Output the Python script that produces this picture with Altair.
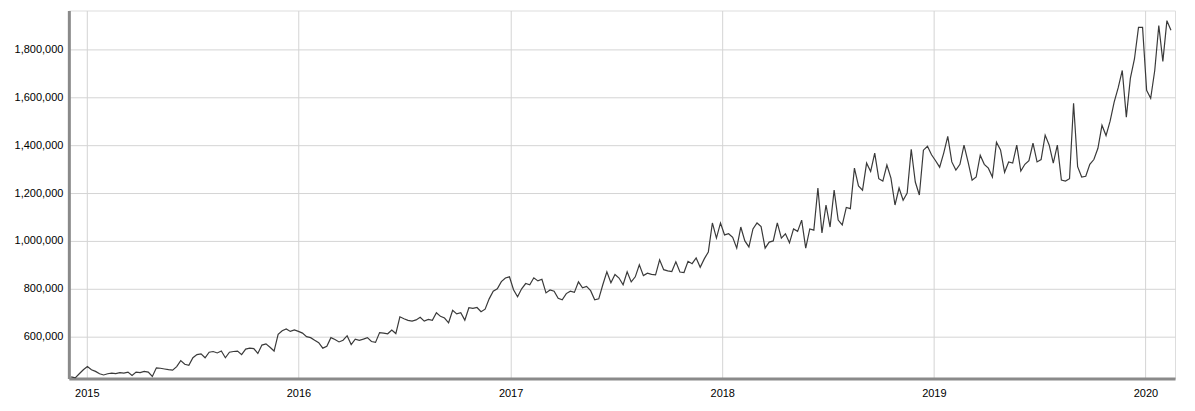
import altair as alt
import pandas as pd

# weekly readings (thousands), first point 2014-12-05, every 7 days
vals_2014 = [432, 428, 445, 462]
vals_2015 = [
    475, 462, 455, 445,
    440, 445, 448, 446,
    450, 448, 452, 438, 452,
    450, 455, 452, 434,
    470, 468, 465, 462,
    460, 475, 500, 485, 480,
    512, 525, 528, 512,
    535, 538, 532, 540, 512,
    535, 538, 540, 525,
    548, 552, 550, 530,
    565, 570, 556, 540, 610,
    625, 632, 622,
]
vals_2016 = [
    628, 622, 615, 600,
    596, 585, 575, 552, 560,
    596, 588, 578, 585,
    604, 567, 590, 585,
    590, 596, 580, 576, 617,
    615, 612, 628, 613,
    683, 675, 668, 665,
    670, 681, 665, 672, 668,
    700, 685, 678, 658,
    710, 695, 700, 669, 721,
    718, 722, 704, 715,
    758, 790, 800, 830, 845,
]
vals_2017 = [
    850, 796, 767, 800, 822,
    817, 846, 833, 840,
    783, 795, 790, 760,
    754, 780, 790, 785,
    829, 804, 810, 792, 754,
    758, 817, 871, 825,
    860, 845, 817, 871, 829,
    850, 900, 855, 865,
    860, 858, 921, 880,
    875, 872, 913, 870, 868,
    915, 905, 929, 890,
    925, 954, 1075, 1012,
]
vals_2018 = [
    1075, 1025, 1030, 1015, 970,
    1058, 1000, 975, 1050,
    1075, 1060, 970, 995,
    1000, 1075, 1012, 1030, 992,
    1050, 1040, 1087, 970,
    1050, 1045, 1221, 1033,
    1150, 1058, 1212, 1087, 1067,
    1140, 1135, 1304, 1230,
    1212, 1325, 1290, 1367,
    1260, 1250, 1317, 1262, 1150,
    1221, 1170, 1200, 1383,
    1246, 1192, 1379, 1395,
]
vals_2019 = [
    1360, 1335, 1308, 1367,
    1437, 1330, 1296, 1320,
    1400, 1330, 1254, 1267, 1358,
    1320, 1304, 1267, 1412,
    1380, 1287, 1330, 1325, 1400,
    1292, 1320, 1335, 1408,
    1330, 1340, 1442, 1400,
    1325, 1400, 1254, 1250, 1260,
    1575, 1310, 1267, 1270,
    1320, 1340, 1387, 1483,
    1440, 1500, 1580, 1640, 1712,
    1517, 1680, 1760, 1892,
]
vals_2020 = [1892, 1629, 1596, 1712, 1900, 1750, 1920, 1880]

values = vals_2014 + vals_2015 + vals_2016 + vals_2017 + vals_2018 + vals_2019 + vals_2020
dates = pd.date_range("2014-12-05", periods=len(values), freq="7D")
df = pd.DataFrame({"date": dates, "value": [v * 1000 for v in values]})

year_ticks = [2015, 2016, 2017, 2018, 2019, 2020]
y_ticks = [600000, 800000, 1000000, 1200000, 1400000, 1600000, 1800000]

x_enc = alt.X(
    "date:T",
    scale=alt.Scale(domain=["2014-12-01", "2020-02-21"]),
    axis=alt.Axis(
        values=[alt.DateTime(year=y, month=1, date=1) for y in year_ticks],
        format="%Y", title=None, tickSize=0, labelPadding=9,
        domainColor="#8a8a8a", domainWidth=3, gridColor="#d4d4d4",
        labelFont="Liberation Sans", labelFontSize=11, labelColor="#000",
    ),
)
y_enc = alt.Y(
    "value:Q",
    scale=alt.Scale(domain=[425000, 1962500], nice=False, zero=False),
    axis=alt.Axis(
        values=y_ticks, format=",d", title=None, tickSize=0, labelPadding=6,
        domainColor="#8a8a8a", domainWidth=3, gridColor="#d4d4d4",
        labelFont="Liberation Sans", labelFontSize=11, labelColor="#000",
    ),
)

chart = (
    alt.Chart(df)
    .mark_line(color="#3a3a3a", strokeWidth=1.2, clip=True)
    .encode(x=x_enc, y=y_enc)
    .properties(
        width=1109, height=369,
        autosize=alt.AutoSizeParams(type="none"),
        padding={"left": 61, "top": 2, "right": 12, "bottom": 30},
    )
    .configure_view(stroke="#aaaaaa", strokeWidth=1)
    .configure(background="white")
)

chart.save("out.html", embed_options={"renderer": "svg", "actions": False})
